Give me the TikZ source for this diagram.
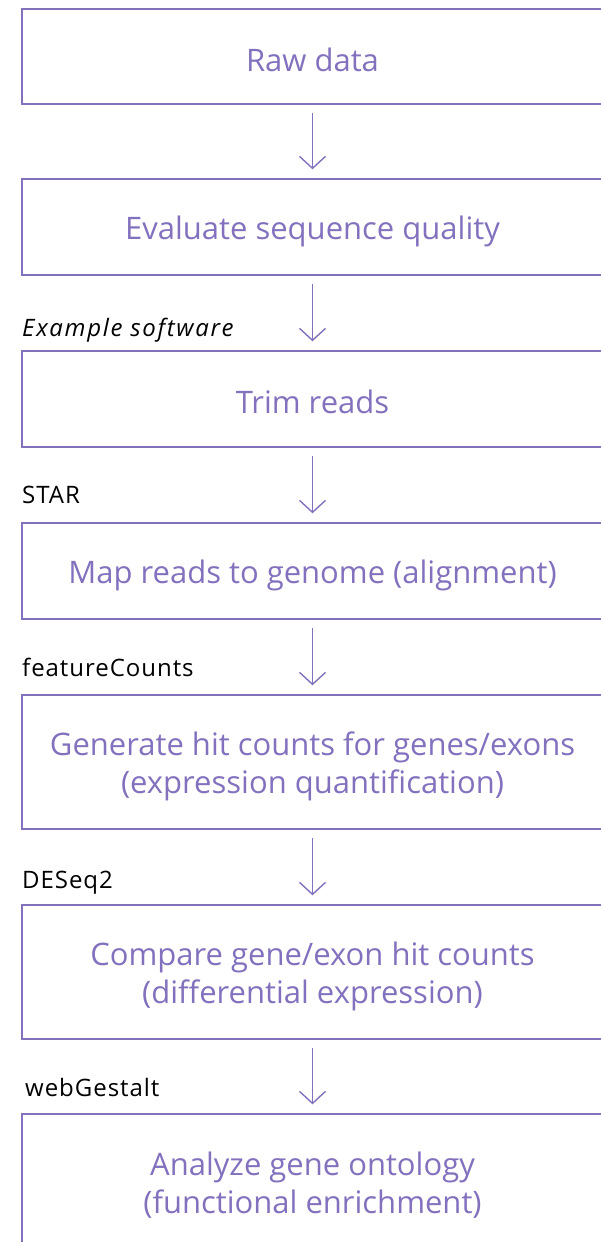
\documentclass[tikz,border=0pt]{standalone}
\usepackage{fontspec}
\setmainfont{Open Sans}
\usetikzlibrary{arrows.meta}

\definecolor{lilac}{RGB}{131,113,190}

\tikzset{
	stepbox/.style={draw=lilac, line width=1.4pt, minimum width=581pt, inner sep=0pt},
	steptext/.style={text=lilac, align=center, inner sep=0pt,
		font=\fontsize{31}{38}\selectfont},
	toollabel/.style={anchor=base west, inner sep=0pt,
		font=\fontsize{24}{28}\selectfont\addfontfeature{LetterSpace=4}},
	flow/.style={draw=lilac, line width=1.4pt, shorten <=8pt, shorten >=9pt,
		-{Straight Barb[length=12pt,width=26pt,line width=1.4pt]}}
}

\begin{document}
\begin{tikzpicture}[x=1pt,y=-1pt]
\useasboundingbox (0,0) rectangle (601,1242);

% pipeline steps
\node[stepbox, minimum height=95pt]  (raw)   at (312.5,56.5) {};
\node[stepbox, minimum height=96pt]  (qual)  at (312.5,227)  {};
\node[stepbox, minimum height=96pt]  (trim)  at (312.5,399)  {};
\node[stepbox, minimum height=96pt]  (map)   at (312.5,571)  {};
\node[stepbox, minimum height=134pt] (count) at (312.5,762)  {};
\node[stepbox, minimum height=134pt] (diff)  at (312.5,972)  {};
\node[stepbox, minimum height=134pt] (onto)  at (312.5,1181) {};

% text sits a little below the middle of each box
\node[steptext] (rawtxt)   at ([yshift=-3pt]raw)   {Raw data};
\node[steptext] (qualtxt)  at ([yshift=-4pt]qual)  {Evaluate sequence quality};
\node[steptext] (trimtxt)  at ([yshift=-3pt]trim)  {Trim reads};
\node[steptext] (maptxt)   at ([yshift=-4pt]map)   {Map reads to genome (alignment)};
\node[steptext] (counttxt) at ([yshift=-4pt]count) {Generate hit counts for genes/exons\\(expression quantification)};
\node[steptext] (difftxt)  at ([yshift=-4pt]diff)  {Compare gene/exon hit counts\\(differential expression)};
\node[steptext] (ontotxt)  at ([yshift=-4pt]onto)  {Analyze gene ontology\\(functional enrichment)};

% tools used for each step
\node[toollabel] (ex)   at (22,336)  {\addfontfeature{LetterSpace=7}\itshape Example software};
\node[toollabel] (star) at (22,503)  {STAR};
\node[toollabel] (fc)   at (22,676)  {featureCounts};
\node[toollabel] (des)  at (22,888)  {DESeq2};
\node[toollabel] (web)  at (25,1096) {webGestalt};

\foreach \a/\b in {raw/qual,qual/trim,trim/map,map/count,count/diff,diff/onto}
	\draw[flow] (\a.south) -- (\b.north);
\end{tikzpicture}
\end{document}
